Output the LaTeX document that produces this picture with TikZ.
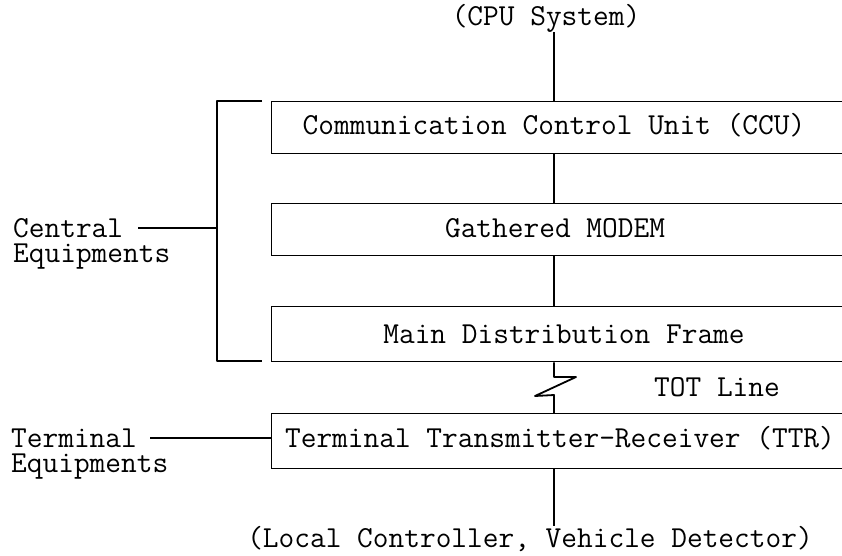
\documentclass[tikz,border=0pt]{standalone}
\begin{document}
\begin{tikzpicture}[x=1pt, y=-1pt,
  txt/.style={font=\fontsize{30.5}{25}\selectfont\ttfamily, inner sep=0pt, anchor=base},
  lefttxt/.style={txt, anchor=base west, align=left},
  box/.style={draw, line width=1.3pt, anchor=north west, inner sep=0pt,
              minimum width=620pt},
  wire/.style={line width=1.8pt},
  brace/.style={line width=2.4pt, line join=round}]
  % page frame and clipping (boxes run off the right edge)
  \useasboundingbox (0,0) rectangle (842,555);
  \clip (0,0) rectangle (842,555);
  \fill[white] (0,0) rectangle (842,555);

  \coordinate (spine) at (554,0);

  % stacked unit boxes
  \node[box, minimum height=52pt] (ccu)   at (271,101) {};
  \node[box, minimum height=52pt] (modem) at (271,203) {};
  \node[box, minimum height=55pt] (mdf)   at (271,306) {};
  \node[box, minimum height=55pt] (ttr)   at (271,413) {};

  % box captions
  \node[txt] (ccuT)   at (554,134) {Communication Control Unit (CCU)};
  \node[txt] (modemT) at (555,237) {Gathered MODEM};
  \node[txt] (mdfT)   at (564,343) {Main Distribution Frame};
  \node[txt] (ttrT)   at (560,447) {Terminal Transmitter-Receiver (TTR)};

  % end points of the chain
  \node[txt] (cpu)   at (546,25)  {(CPU System)};
  \node[txt] (local) at (530,547) {(Local Controller, Vehicle Detector)};
  \node[txt] (tot)   at (717,396) {TOT Line};

  % group labels (base anchor sits on the last line)
  \node[lefttxt] (central) at (13,262) {Central\\Equipments};
  \node[lefttxt] (term)    at (11,472) {Terminal\\Equipments};

  % vertical signal chain
  \draw[wire] (spine |- cpu.south) -- (spine |- ccu.north);
  \draw[wire] (spine |- ccu.south) -- (spine |- modem.north);
  \draw[wire] (spine |- modem.south) -- (spine |- mdf.north);
  \coordinate (z1) at (554,377);
  \coordinate (z2) at (576,377);
  \coordinate (z3) at (535,396);
  \coordinate (z4) at (554,395);
  \draw[wire, line join=round] (spine |- mdf.south) -- (z1) -- (z2) -- (z3) -- (z4) -- (spine |- ttr.north);
  \draw[wire] (spine |- ttr.south) -- (spine |- local.north);

  % bracket grouping the central equipment
  \coordinate (bTop) at (262,101);
  \coordinate (bBot) at (262,361);
  \coordinate (bMid) at (217,228);
  \coordinate (cStart) at (138,228);
  \draw[brace] (bTop) -- (217,101) -- (217,361) -- (bBot);
  \draw[wire] (cStart) -- (bMid);

  % leader to the terminal equipment
  \coordinate (tStart) at (150,438);
  \draw[wire] (tStart) -- (ttr.west |- tStart);
\end{tikzpicture}
\end{document}
